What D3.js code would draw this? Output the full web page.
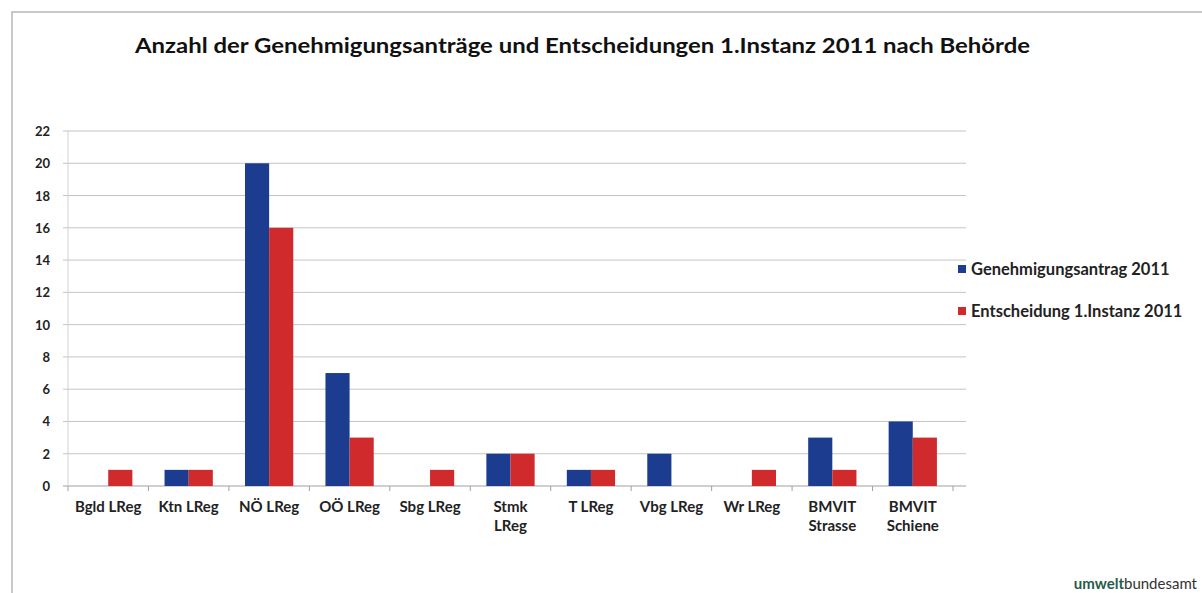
<!DOCTYPE html>
<html><head><meta charset="utf-8">
<script src="https://cdn.jsdelivr.net/npm/d3@7"></script>
<style>body{margin:0;background:#fff}svg{display:block}text{font-family:Lato,"Open Sans",sans-serif}</style>
</head><body>
<svg id="c" width="1202" height="593"></svg>
<script>
const categories = [["Bgld LReg"],["Ktn LReg"],["NÖ LReg"],["OÖ LReg"],["Sbg LReg"],["Stmk","LReg"],["T LReg"],["Vbg LReg"],["Wr LReg"],["BMVIT","Strasse"],["BMVIT","Schiene"]];
const antrag = [0,1,20,7,0,2,1,2,0,3,4];
const entscheidung = [1,1,16,3,1,2,1,0,1,1,3];
const seriesNames = ["Genehmigungsantrag 2011","Entscheidung 1.Instanz 2011"];
const yTicks = [0,2,4,6,8,10,12,14,16,18,20,22];
const title = "Anzahl der Genehmigungsanträge und Entscheidungen 1.Instanz 2011 nach Behörde";
const colors = ["#1c3d8f","#d02a2c"];

const svg = d3.select("#c");
// frame
svg.append("path").attr("d","M12,593 V12 H1202").attr("fill","none").attr("stroke","#b8b8b8").attr("stroke-width",1.5);

const L=68,R=953,T=131,B=486;
const x = d3.scaleBand().domain(d3.range(categories.length)).range([L,R]).paddingInner(0.4).paddingOuter(0.2);
const x1 = d3.scaleBand().domain([0,1]).range([0,x.bandwidth()]);
const y = d3.scaleLinear().domain([0,22]).range([B,T]);
const xb = d3.scaleBand().domain(d3.range(categories.length)).range([L,R]);

// gridlines
svg.append("g").selectAll("line").data(yTicks).join("line")
 .attr("x1",L-5).attr("x2",966).attr("y1",d=>y(d)).attr("y2",d=>y(d))
 .attr("stroke",d=>d===0?"#a0a0a0":"#c4c4c4").attr("stroke-width",1);
svg.append("line").attr("x1",L).attr("x2",L).attr("y1",T).attr("y2",B).attr("stroke","#d0d0d0");
// y labels
svg.append("g").selectAll("text").data(yTicks).join("text")
 .attr("x",50).attr("y",d=>y(d)+5).attr("text-anchor","end")
 .attr("font-size",13).attr("font-weight","bold").attr("fill","#222").text(d=>d);
// x ticks
svg.append("g").selectAll("line").data(d3.range(categories.length+1)).join("line")
 .attr("x1",i=>L+i*xb.step()).attr("x2",i=>L+i*xb.step()).attr("y1",B).attr("y2",B+5).attr("stroke","#a0a0a0");

// bars
const data = categories.map((c,i)=>[antrag[i],entscheidung[i]]);
const g = svg.append("g").selectAll("g").data(data).join("g").attr("transform",(d,i)=>`translate(${x(i)},0)`);
g.selectAll("rect").data(d=>d.map((v,k)=>({v,k}))).join("rect")
 .attr("x",d=>x1(d.k)).attr("width",x1.bandwidth())
 .attr("y",d=>y(d.v)).attr("height",d=>B-y(d.v)).attr("fill",d=>colors[d.k]);

// x labels
const xl = svg.append("g").selectAll("text").data(categories).join("text")
 .attr("x",(d,i)=>xb(i)+xb.bandwidth()/2).attr("y",512).attr("text-anchor","middle")
 .attr("font-size",15).attr("font-weight","bold").attr("fill","#222");
xl.selectAll("tspan").data(d=>d).join("tspan").attr("x",function(){return this.parentNode.getAttribute("x");})
 .attr("dy",(d,j)=>j?19:0).text(d=>d);

// title
svg.append("text").attr("x",135).attr("y",53).attr("font-size",21).attr("font-weight","bold").attr("fill","#111")
 .attr("textLength",895).attr("lengthAdjust","spacingAndGlyphs").text(title);

// legend
const lg = svg.append("g").selectAll("g").data(seriesNames).join("g").attr("transform",(d,i)=>`translate(958,${270+i*42})`);
lg.append("rect").attr("x",0).attr("y",-5).attr("width",8).attr("height",8).attr("fill",(d,i)=>colors[i]);
lg.append("text").attr("x",13).attr("y",5).attr("font-size",16.5).attr("font-weight","bold").attr("fill","#222").text(d=>d);

// logo
const lt = svg.append("text").attr("x",1197).attr("y",589).attr("text-anchor","end").attr("font-size",15);
lt.append("tspan").attr("font-weight","bold").attr("fill","#1f5c4a").text("umwelt");
lt.append("tspan").attr("fill","#333").text("bundesamt");
</script>
</body></html>
